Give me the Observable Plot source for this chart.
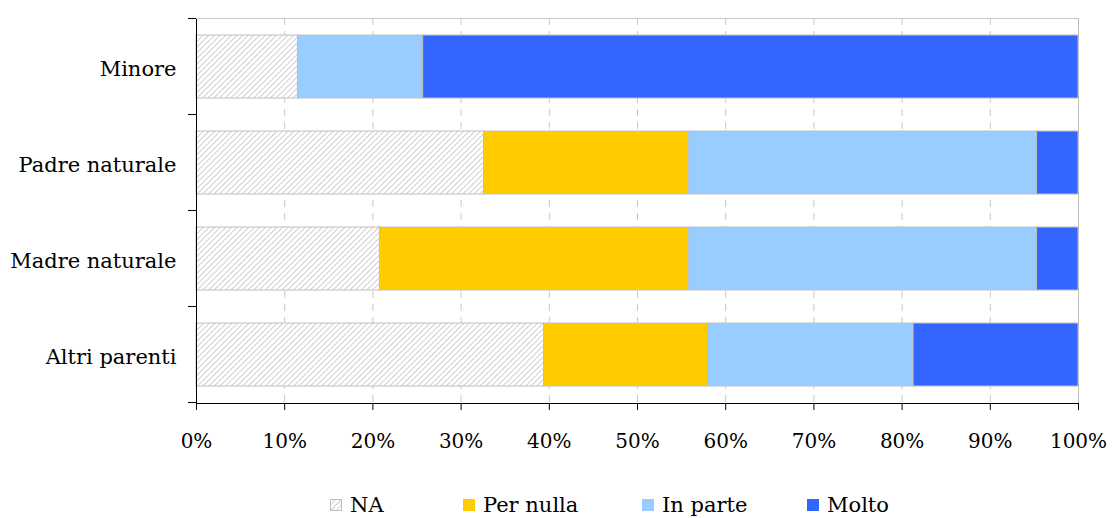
<!DOCTYPE html>
<html>
<head>
<meta charset="utf-8">
<script src="https://cdn.jsdelivr.net/npm/d3@7"></script>
<script src="https://cdn.jsdelivr.net/npm/@observablehq/plot@0.6"></script>
<style>
  html, body { margin: 0; padding: 0; background: #fff; }
  #chart { width: 1112px; }
  .legend { display: flex; justify-content: flex-start; align-items: center;
            padding-left: 330px; margin-top: 22px; height: 26px;
            font-family: "DejaVu Serif", serif; font-size: 21px; color: #000; }
  .legend .item { display: flex; align-items: center; gap: 8px; }
  .legend svg { display: block; }
</style>
</head>
<body>
<div id="chart"></div>
<script>
const categories = ["Minore", "Padre naturale", "Madre naturale", "Altri parenti"];
const seriesNames = ["NA", "Per nulla", "In parte", "Molto"];
const naValues = [11.5, 32.6, 20.8, 39.4];
const perNullaValues = [0, 23.2, 35.0, 18.6];
const inParteValues = [14.2, 39.5, 39.5, 23.3];
const moltoValues = [74.3, 4.7, 4.7, 18.7];
const seriesColors = ["url(#hatchNA)", "#FFCC00", "#99CCFF", "#3366FF"];
const xTicks = [0, 10, 20, 30, 40, 50, 60, 70, 80, 90, 100];
const legendWidths = [133, 179, 165, 100];

const valueLists = [naValues, perNullaValues, inParteValues, moltoValues];
const data = [];
categories.forEach((c, i) => {
  seriesNames.forEach((s, j) => data.push({category: c, series: s, value: valueLists[j][i]}));
});

const font = '"DejaVu Serif", serif';
const plot = Plot.plot({
  width: 1112,
  height: 470,
  marginTop: 18,
  marginBottom: 67,
  marginLeft: 196,
  marginRight: 34,
  style: {fontFamily: font, fontSize: "20px", color: "#000", background: "#fff"},
  x: {domain: [0, 100], label: null},
  y: {domain: categories, paddingInner: 0.34, paddingOuter: 0.17, label: null},
  color: {domain: seriesNames, range: seriesColors},
  marks: [
    Plot.ruleX(xTicks.slice(1, -1), {stroke: "#c8c8c8", strokeDasharray: "7,6", strokeWidth: 1}),
    Plot.ruleX([100], {stroke: "#bfbfbf", strokeWidth: 1}),
    Plot.barX(data, Plot.stackX({
      x: "value", y: "category", fill: "series", order: seriesNames,
      stroke: "#bfbfbf", strokeWidth: 1
    })),
    Plot.axisX({ticks: xTicks, tickFormat: d => d + "%", tickSize: 7, tickPadding: 23,
                stroke: "#000", fontSize: 20, label: null}),
    Plot.axisY({tickSize: 0, tickPadding: 20, fontSize: 21, dy: 2, label: null}),
    Plot.frame({anchor: "left", stroke: "#000"}),
    Plot.frame({anchor: "bottom", stroke: "#000"})
  ]
});

const svg = d3.select(plot);

// Hatch pattern definition
const defs = svg.insert("defs", ":first-child");
const pat = defs.append("pattern")
  .attr("id", "hatchNA").attr("patternUnits", "userSpaceOnUse")
  .attr("width", 4).attr("height", 4).attr("patternTransform", "rotate(45)");
pat.append("rect").attr("width", 4).attr("height", 4).attr("fill", "#fff");
pat.append("line").attr("x1", 0).attr("y1", 0).attr("x2", 0).attr("y2", 4)
  .attr("stroke", "#b5b5b5").attr("stroke-width", 1.3);

// Category boundary ticks on the y axis, derived from the band scale
const ys = plot.scale("y");
const xs = plot.scale("x");
const step = ys.step, bw = ys.bandwidth;
const x0 = xs.apply(0);
const bounds = categories.map(c => ys.apply(c) - (step - bw) / 2);
bounds.push(ys.apply(categories[categories.length - 1]) + bw + (step - bw) / 2);
const g = svg.append("g");
bounds.forEach(b => {
  g.append("line").attr("x1", x0 - 8).attr("x2", x0).attr("y1", b).attr("y2", b)
    .attr("stroke", "#000");
});
// top border of plot area
g.append("line").attr("x1", x0).attr("x2", xs.apply(100)).attr("y1", bounds[0]).attr("y2", bounds[0])
  .attr("stroke", "#c8c8c8");

document.getElementById("chart").appendChild(plot);

// Legend
const legend = d3.select("#chart").append("div").attr("class", "legend");
seriesNames.forEach((s, j) => {
  const item = legend.append("div").attr("class", "item").style("width", legendWidths[j] + "px");
  const sw = item.append("svg").attr("width", 12).attr("height", 12);
  if (j === 0) {
    const p = sw.append("defs").append("pattern").attr("id", "hatchLeg")
      .attr("patternUnits", "userSpaceOnUse").attr("width", 4).attr("height", 4)
      .attr("patternTransform", "rotate(45)");
    p.append("rect").attr("width", 4).attr("height", 4).attr("fill", "#fff");
    p.append("line").attr("x1", 0).attr("y1", 0).attr("x2", 0).attr("y2", 4)
      .attr("stroke", "#b5b5b5").attr("stroke-width", 1.3);
    sw.append("rect").attr("x", 0.5).attr("y", 0.5).attr("width", 11).attr("height", 11)
      .attr("fill", "url(#hatchLeg)").attr("stroke", "#bfbfbf");
  } else {
    sw.append("rect").attr("x", 0).attr("y", 0).attr("width", 12).attr("height", 12)
      .attr("fill", seriesColors[j]);
  }
  item.append("span").text(s);
});
</script>
</body>
</html>
